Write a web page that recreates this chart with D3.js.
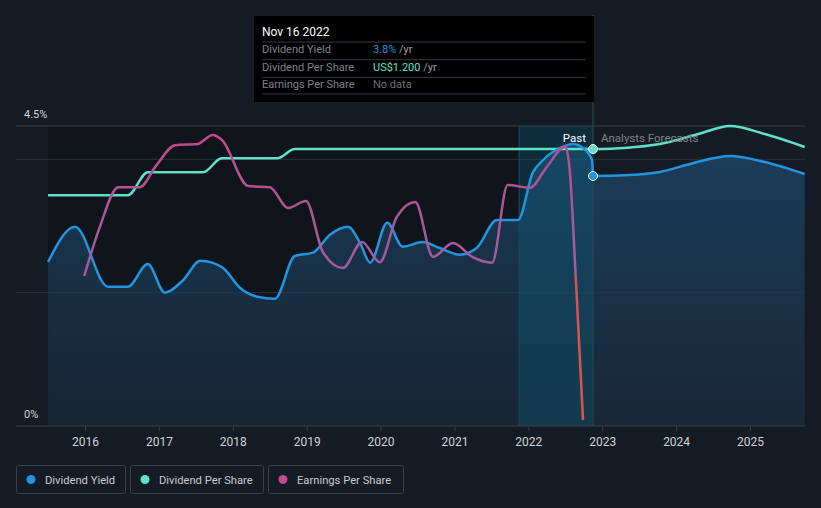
<!DOCTYPE html>
<html><head><meta charset="utf-8">
<script src="https://cdn.jsdelivr.net/npm/d3@7"></script>
<style>
html,body{margin:0;padding:0;background:#151b24;}
svg{display:block;font-family:Roboto,"Noto Sans",sans-serif;}
</style></head>
<body><svg id="c" width="821" height="508"></svg>
<script>
// ---- data ----
const yieldPast = [
 [2015.50,2.46],[2015.865,2.99],[2016.31,2.09],[2016.58,2.09],[2016.85,2.43],[2017.08,2.0],
 [2017.33,2.19],[2017.56,2.48],[2017.72,2.45],[2017.87,2.37],[2018.10,2.07],[2018.33,1.94],
 [2018.57,1.91],[2018.84,2.55],[2019.085,2.60],[2019.315,2.87],[2019.56,2.99],[2019.72,2.75],
 [2019.86,2.45],[2020.09,3.05],[2020.30,2.69],[2020.57,2.76],[2020.80,2.67],[2021.07,2.57],
 [2021.30,2.67],[2021.575,3.09],[2021.86,3.09],[2022.06,3.80],[2022.20,3.99],[2022.47,4.19],
 [2022.60,4.23],[2022.74,4.17],[2022.86,3.99],[2022.875,3.75]
];
const yieldForecast = [
 [2022.875,3.75],[2023.3,3.76],[2023.78,3.81],[2024.25,3.95],[2024.73,4.05],[2025.2,3.96],[2025.74,3.78]
];
const dpsPast = [
 [2015.50,1.00],[2016.58,1.00],[2016.85,1.10],[2017.60,1.10],[2017.85,1.16],[2018.60,1.16],
 [2018.84,1.20],[2022.875,1.20]
];
const dpsForecast = [
 [2022.875,1.20],[2023.3,1.205],[2023.78,1.222],[2024.3,1.265],[2024.73,1.30],[2025.2,1.265],[2025.74,1.209]
];
const epsPast = [
 [2015.99,-0.02],[2016.20,0.90],[2016.45,1.65],[2016.74,1.65],[2016.97,2.07],[2017.22,2.44],
 [2017.52,2.46],[2017.73,2.63],[2017.85,2.54],[2018.21,1.67],[2018.50,1.65],[2018.75,1.26],
 [2018.99,1.39],[2019.22,0.43],[2019.49,0.13],[2019.75,0.62],[2019.99,0.24],[2020.22,1.09],
 [2020.47,1.37],[2020.71,0.34],[2020.98,0.60],[2021.24,0.34],[2021.51,0.23],[2021.72,1.69],
 [2022.02,1.64],[2022.25,2.03],[2022.50,2.41],[2022.56,1.97],[2022.64,0.0],[2022.74,-2.73]
];
const xTicks = [2016,2017,2018,2019,2020,2021,2022,2023,2024,2025];
const yLabels = ["4.5%","0%"];
const gridValues = [4.5,4.0,2.0];
const nowDate = 2022.875;
const bandStart = 2021.875;
const legendItems = [
 {name:"Dividend Yield", color:"#2394df"},
 {name:"Dividend Per Share", color:"#5fe0c9"},
 {name:"Earnings Per Share", color:"#c2498a"}
];
const tooltipTitle = "Nov 16 2022";
const tooltipRows = [
 {label:"Dividend Yield", value:"3.8%", unit:" /yr", color:"#2394df"},
 {label:"Dividend Per Share", value:"US$1.200", unit:" /yr", color:"#5fe0c9"},
 {label:"Earnings Per Share", value:"No data", unit:"", color:"#6b7079"}
];

// ---- layout ----
const svg = d3.select("#c");
const x = d3.scaleLinear().domain([2016,2025]).range([85,750]);
const yY = d3.scaleLinear().domain([0,4.5]).range([426,126]);
const yD = d3.scaleLinear().domain([0,1.3]).range([426,126]);
const yE = d3.scaleLinear().domain([-2.84,2.8]).range([426,126]);
const pL = 16, pR = 805, pT = 126, pB = 426;
const dataStart = x(2015.5);

const defs = svg.append("defs");
const ag = defs.append("linearGradient").attr("id","ag").attr("x1",0).attr("x2",0).attr("y1",0).attr("y2",1);
ag.append("stop").attr("offset","0%").attr("stop-color","#1d4a6c").attr("stop-opacity",0.72);
ag.append("stop").attr("offset","100%").attr("stop-color","#1a3044").attr("stop-opacity",0.62);
const eg = defs.append("linearGradient").attr("id","eg").attr("gradientUnits","userSpaceOnUse")
  .attr("x1",0).attr("x2",0).attr("y1",yE(2.8)).attr("y2",yE(-2.84));
const z = (yE(0)-yE(2.8))/(yE(-2.84)-yE(2.8));
eg.append("stop").attr("offset","0%").attr("stop-color","#c2498a");
eg.append("stop").attr("offset",(z-0.1)).attr("stop-color","#a45a9c");
eg.append("stop").attr("offset",z).attr("stop-color","#a45a9c");
eg.append("stop").attr("offset",z).attr("stop-color","#d9534f");
eg.append("stop").attr("offset","100%").attr("stop-color","#d9534f");

// past darker background
svg.append("rect").attr("x",dataStart).attr("y",pT).attr("width",x(nowDate)-dataStart).attr("height",pB-pT).attr("fill","#10141b");

// gridlines
svg.append("g").selectAll("line").data(gridValues).join("line")
 .attr("x1",pL).attr("x2",pR).attr("y1",d=>yY(d)).attr("y2",d=>yY(d))
 .attr("stroke",d=>d===4.5?"#3a3f48":"#2a2f38").attr("stroke-width",1);

// areas
const area = d3.area().x(d=>x(d[0])).y0(pB).y1(d=>yY(d[1])).curve(d3.curveMonotoneX);
svg.append("path").datum(yieldPast).attr("d",area).attr("fill","url(#ag)");
svg.append("path").datum(yieldForecast).attr("d",area).attr("fill","url(#ag)");

// highlight band
svg.append("rect").attr("x",x(bandStart)).attr("y",pT).attr("width",x(nowDate)-x(bandStart)).attr("height",pB-pT)
 .attr("fill","#0b6a8c").attr("fill-opacity",0.28);
svg.append("line").attr("x1",x(bandStart)).attr("x2",x(bandStart)).attr("y1",pT).attr("y2",pB).attr("stroke","#1e4a5c").attr("stroke-width",1);

// now line
svg.append("line").attr("x1",x(nowDate)).attr("x2",x(nowDate)).attr("y1",15).attr("y2",pB).attr("stroke","#2d4a5a").attr("stroke-width",1);

// lines
const lineY = d3.line().x(d=>x(d[0])).y(d=>yY(d[1])).curve(d3.curveMonotoneX);
const lineD = d3.line().x(d=>x(d[0])).y(d=>yD(d[1])).curve(d3.curveMonotoneX);
const lineE = d3.line().x(d=>x(d[0])).y(d=>yE(d[1])).curve(d3.curveMonotoneX);
svg.append("path").datum(dpsPast).attr("d",lineD).attr("fill","none").attr("stroke","#5fe0c9").attr("stroke-width",2.5);
svg.append("path").datum(dpsForecast).attr("d",lineD).attr("fill","none").attr("stroke","#5fe0c9").attr("stroke-width",2.5);
svg.append("path").datum(yieldPast).attr("d",lineY).attr("fill","none").attr("stroke","#2394df").attr("stroke-width",2.5);
svg.append("path").datum(yieldForecast).attr("d",lineY).attr("fill","none").attr("stroke","#2394df").attr("stroke-width",2.5);
svg.append("path").datum(epsPast).attr("d",lineE).attr("fill","none").attr("stroke","url(#eg)").attr("stroke-width",2.5);

// dots at now
svg.append("circle").attr("cx",x(nowDate)).attr("cy",yD(dpsForecast[0][1])).attr("r",4.5).attr("fill","#5fe0c9").attr("stroke","#ffffff").attr("stroke-width",1);
svg.append("circle").attr("cx",x(nowDate)).attr("cy",yY(yieldForecast[0][1])).attr("r",4.5).attr("fill","#2394df").attr("stroke","#ffffff").attr("stroke-width",1);

// axis
const ax = svg.append("g").attr("transform",`translate(0,${pB})`)
 .call(d3.axisBottom(x).tickValues(xTicks).tickFormat(d3.format("d")).tickSize(5).tickPadding(6));
ax.select(".domain").remove();
ax.insert("line",":first-child").attr("x1",pL).attr("x2",pR).attr("y1",0).attr("y2",0).attr("stroke","#3a3f48");
ax.selectAll(".tick line").attr("stroke","#3a3f48");
ax.selectAll(".tick text").attr("fill","#d0d3d8").attr("font-size",12).attr("font-family","Roboto,sans-serif");

// y labels
svg.append("text").attr("x",24).attr("y",118).attr("fill","#d0d3d8").attr("font-size",11).text(yLabels[0]);
svg.append("text").attr("x",24).attr("y",418).attr("fill","#d0d3d8").attr("font-size",11).text(yLabels[1]);

// Past / Forecast labels
svg.append("text").attr("x",x(nowDate)-7).attr("y",142).attr("text-anchor","end").attr("fill","#ffffff").attr("font-size",11.5).text("Past");
svg.append("text").attr("x",x(nowDate)+8).attr("y",142).attr("fill","#7d838c").attr("font-size",11.5).text("Analysts Forecasts");

// tooltip
const tt = svg.append("g").attr("transform","translate(254,16)");
tt.append("rect").attr("width",340).attr("height",86).attr("fill","#000000");
tt.append("text").attr("x",8).attr("y",20).attr("fill","#ffffff").attr("font-size",12).text(tooltipTitle);
tooltipRows.forEach((r,i)=>{
  const yy = 37+i*17.7;
  tt.append("line").attr("x1",8).attr("x2",332).attr("y1",yy-11).attr("y2",yy-11).attr("stroke","#333740");
  tt.append("text").attr("x",8).attr("y",yy).attr("fill","#7d838c").attr("font-size",11).text(r.label);
  const t = tt.append("text").attr("x",119).attr("y",yy).attr("font-size",11);
  t.append("tspan").attr("fill",r.color).text(r.value);
  t.append("tspan").attr("fill","#9a9fa8").text(r.unit);
});
tt.append("line").attr("x1",8).attr("x2",332).attr("y1",78).attr("y2",78).attr("stroke","#333740");

// legend
const lg = svg.append("g");
let lx = 16;
const widths = [109,133,135];
legendItems.forEach((d,i)=>{
  const g = lg.append("g").attr("transform",`translate(${lx},465)`);
  g.append("rect").attr("x",0.5).attr("y",0.5).attr("width",widths[i]).attr("height",28).attr("rx",2)
   .attr("fill","none").attr("stroke","#3a3f48");
  g.append("circle").attr("cx",15).attr("cy",14.5).attr("r",4.5).attr("fill",d.color);
  g.append("text").attr("x",29).attr("y",18.5).attr("fill","#c9ccd1").attr("font-size",11.2).text(d.name);
  lx += widths[i]+5;
});
</script></body></html>
